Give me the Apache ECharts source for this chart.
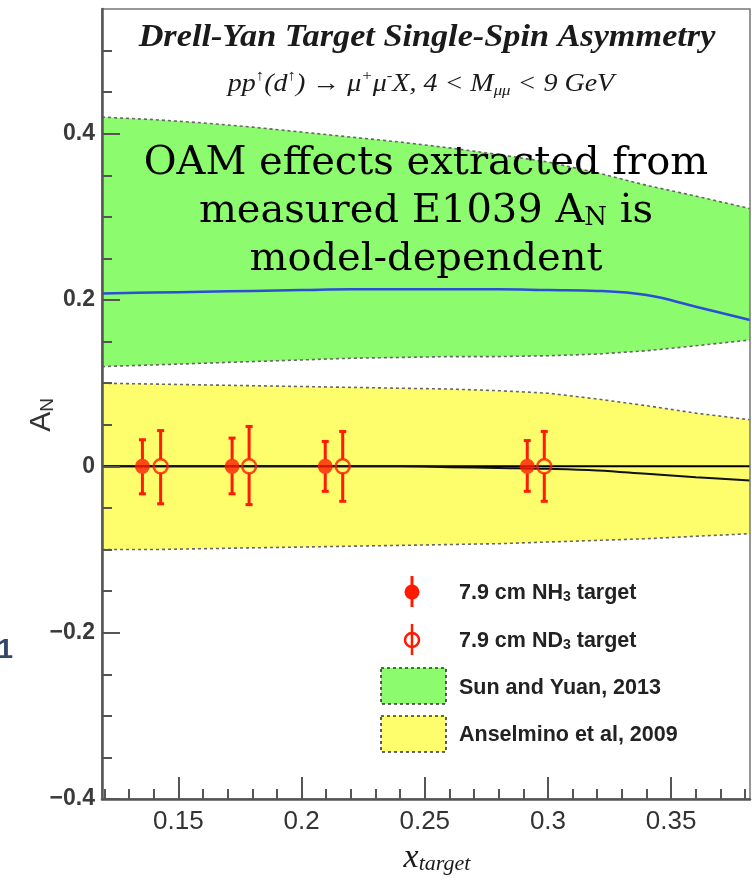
<!DOCTYPE html>
<html>
<head>
<meta charset="utf-8">
<script src="https://cdn.jsdelivr.net/npm/echarts@6/dist/echarts.min.js"></script>
<style>html,body{margin:0;padding:0;background:#fff}#c{width:752px;height:883px}</style>
</head>
<body>
<div id="c"></div>
<script>
// ---- data ----
const bandX      = [0.119, 0.14, 0.16, 0.18, 0.20, 0.22, 0.24, 0.26, 0.28, 0.30, 0.32, 0.34, 0.36, 0.382];
const sunUpper   = [0.420, 0.417, 0.413, 0.408, 0.402, 0.396, 0.390, 0.383, 0.375, 0.366, 0.353, 0.338, 0.325, 0.310];
const sunLower   = [0.120, 0.122, 0.124, 0.126, 0.128, 0.130, 0.131, 0.132, 0.132, 0.133, 0.135, 0.139, 0.145, 0.152];
const sunCentral = [0.208, 0.209, 0.210, 0.211, 0.212, 0.213, 0.213, 0.213, 0.213, 0.212, 0.211, 0.206, 0.192, 0.176];
const ansUpper   = [0.100, 0.099, 0.098, 0.097, 0.096, 0.095, 0.094, 0.093, 0.091, 0.088, 0.081, 0.073, 0.064, 0.056];
const ansLower   = [-0.100, -0.100, -0.099, -0.098, -0.097, -0.096, -0.095, -0.094, -0.093, -0.091, -0.089, -0.087, -0.084, -0.081];
const ansCentralP = [0, 0, 0, 0, 0, 0, 0, 0, 0, 0, 0, 0, 0, 0];
const ansCentralD = [0, 0, 0, 0, 0, 0, 0, -0.001, -0.002, -0.003, -0.005, -0.009, -0.013, -0.017];

const nh3X  = [0.1354, 0.1718, 0.2096, 0.2916];
const nh3Y  = [0, 0, 0, 0];
const nh3Lo = [-0.033, -0.033, -0.030, -0.030];
const nh3Hi = [0.032, 0.034, 0.030, 0.031];
const nd3X  = [0.1428, 0.1787, 0.2167, 0.2985];
const nd3Y  = [0, 0, 0, 0];
const nd3Lo = [-0.045, -0.046, -0.042, -0.042];
const nd3Hi = [0.043, 0.048, 0.042, 0.042];

const xTickLabels = [0.15, 0.2, 0.25, 0.3, 0.35];
const xMinorTicks = [0.12, 0.13, 0.14, 0.16, 0.17, 0.18, 0.19, 0.21, 0.22, 0.23, 0.24, 0.26, 0.27, 0.28, 0.29, 0.31, 0.32, 0.33, 0.34, 0.36, 0.37, 0.38];
const yTickLabels = [-0.4, -0.2, 0, 0.2, 0.4];
const yMinorTicks = [-0.35, -0.3, -0.25, -0.15, -0.1, -0.05, 0.05, 0.1, 0.15, 0.25, 0.3, 0.35, 0.45, 0.5];

const legendLabels = ['7.9 cm NH', '7.9 cm ND', 'Sun and Yuan, 2013', 'Anselmino et al, 2009'];

// ---- styles ----
const GREEN = '#8cfb6e', YELLOW = '#fefe6c', RED = '#ff1a00';
const fmt = v => (v < 0 ? '\u2212' + String(Math.abs(v)) : String(v));

function bandSeries(upper, lower, fill) {
  return {
    type: 'custom', z: 1, silent: true,
    data: bandX.map((x, i) => [x, lower[i], upper[i]]),
    encode: { x: 0, y: [1, 2] },
    renderItem: function (params, api) {
      if (params.dataIndex !== 0) return;
      const up = bandX.map((x, i) => api.coord([x, upper[i]]));
      const lo = bandX.map((x, i) => api.coord([x, lower[i]]));
      const edge = { stroke: '#666', lineWidth: 1.6, lineDash: [3, 3], fill: null };
      return {
        type: 'group', children: [
          { type: 'polygon', shape: { points: up.concat(lo.slice().reverse()) }, style: { fill: fill } },
          { type: 'polyline', shape: { points: up }, style: edge },
          { type: 'polyline', shape: { points: lo }, style: edge }
        ]
      };
    }
  };
}

function errSeries(xs, ys, los, his) {
  return {
    type: 'custom', z: 5, silent: true,
    data: xs.map((x, i) => [x, ys[i], los[i], his[i]]),
    encode: { x: 0, y: [1, 2, 3] },
    renderItem: function (params, api) {
      const c = api.coord([api.value(0), api.value(1)]);
      const t = api.coord([api.value(0), api.value(3)]);
      const b = api.coord([api.value(0), api.value(2)]);
      const r = 7, cap = 3.5;
      const st = { stroke: RED, lineWidth: 3 };
      return {
        type: 'group', children: [
          { type: 'line', shape: { x1: c[0], y1: t[1], x2: c[0], y2: c[1] - r }, style: st },
          { type: 'line', shape: { x1: c[0], y1: c[1] + r, x2: c[0], y2: b[1] }, style: st },
          { type: 'line', shape: { x1: c[0] - cap, y1: t[1], x2: c[0] + cap, y2: t[1] }, style: st },
          { type: 'line', shape: { x1: c[0] - cap, y1: b[1], x2: c[0] + cap, y2: b[1] }, style: st }
        ]
      };
    }
  };
}

const chart = echarts.init(document.getElementById('c'), null, { renderer: 'canvas' });

const axisCol = '#555';
const legRich = {
  s: { fontFamily: 'Liberation Sans', fontWeight: 'bold', fontSize: 14, fill: '#222', lineHeight: 14, verticalAlign: 'bottom', padding: [14, 0, 0, 0] },
  m: { fontFamily: 'Liberation Sans', fontWeight: 'bold', fontSize: 21.5, fill: '#222' }
};
const option = {
  animation: false,
  backgroundColor: '#fff',
  grid: { left: 102, right: 2, top: 9, bottom: 84, show: true, borderColor: '#777', borderWidth: 1.5, backgroundColor: 'transparent', z: 8 },
  xAxis: [
    { type: 'value', min: 0.119, max: 0.382, position: 'bottom', z: 10,
      axisLine: { show: true, onZero: false, lineStyle: { color: axisCol, width: 2.5 } },
      axisTick: { show: true, inside: true, length: 22, lineStyle: { color: axisCol, width: 2 }, customValues: xTickLabels },
      axisLabel: { show: true, customValues: xTickLabels, margin: 10, fontSize: 26, color: '#333', fontFamily: 'Liberation Sans', formatter: fmt },
      splitLine: { show: false } },
    { type: 'value', min: 0.119, max: 0.382, position: 'bottom', z: 10,
      axisLine: { show: false, onZero: false },
      axisTick: { show: true, inside: true, length: 10, lineStyle: { color: axisCol, width: 2 }, customValues: xMinorTicks },
      axisLabel: { show: false }, splitLine: { show: false } }
  ],
  yAxis: [
    { type: 'value', min: -0.4, max: 0.55, position: 'left', z: 10,
      axisLine: { show: true, onZero: false, lineStyle: { color: axisCol, width: 2.5 } },
      axisTick: { show: true, inside: true, length: 18, lineStyle: { color: axisCol, width: 2 }, customValues: yTickLabels },
      axisLabel: { show: true, customValues: yTickLabels, margin: 7, fontSize: 23, fontWeight: 'bold', color: '#3a3a3a', fontFamily: 'Liberation Sans', formatter: fmt },
      splitLine: { show: false } },
    { type: 'value', min: -0.4, max: 0.55, position: 'left', z: 10,
      axisLine: { show: false, onZero: false },
      axisTick: { show: true, inside: true, length: 10, lineStyle: { color: axisCol, width: 2 }, customValues: yMinorTicks },
      axisLabel: { show: false }, splitLine: { show: false } }
  ],
  series: [
    bandSeries(ansUpper, ansLower, YELLOW),
    bandSeries(sunUpper, sunLower, GREEN),
    { type: 'line', z: 3, symbol: 'none', silent: true, smooth: 0.4, data: bandX.map((x, i) => [x, sunCentral[i]]), lineStyle: { color: '#2a4fd6', width: 2.5 } },
    { type: 'line', z: 3, symbol: 'none', silent: true, data: bandX.map((x, i) => [x, ansCentralP[i]]), lineStyle: { color: '#000', width: 2 } },
    { type: 'line', z: 3, symbol: 'none', silent: true, smooth: 0.4, data: bandX.map((x, i) => [x, ansCentralD[i]]), lineStyle: { color: '#111', width: 2 } },
    errSeries(nh3X, nh3Y, nh3Lo, nh3Hi),
    errSeries(nd3X, nd3Y, nd3Lo, nd3Hi),
    { type: 'scatter', z: 6, silent: true, symbol: 'circle', symbolSize: 15, data: nh3X.map((x, i) => [x, nh3Y[i]]), itemStyle: { color: RED } },
    { type: 'scatter', z: 6, silent: true, symbol: 'circle', symbolSize: 14, data: nd3X.map((x, i) => [x, nd3Y[i]]), itemStyle: { color: 'rgba(0,0,0,0)', borderColor: RED, borderWidth: 2.5 } }
  ],
  graphic: [
    // title
    { type: 'text', x: 427, y: 38, scaleX: 1.07, z: 20, style: { text: 'Drell-Yan Target Single-Spin Asymmetry', align: 'center', verticalAlign: 'middle', fontFamily: 'Liberation Serif', fontStyle: 'italic', fontWeight: 'bold', fontSize: 32, fill: '#1a1a1a' } },
    { type: 'text', x: 421, y: 84, scaleX: 1.12, z: 20, style: {
        text: '{i|pp}{s|\u2191}{i|(d}{s|\u2191}{i|) \u2192 \u03bc}{s|+}{i|\u03bc}{s|-}{i|X, 4 < M}{b|\u03bc\u03bc}{i| < 9 GeV}',
        align: 'center', verticalAlign: 'middle',
        rich: {
          i: { fontFamily: 'Liberation Serif', fontStyle: 'italic', fontSize: 25, fill: '#1a1a1a', lineHeight: 30, verticalAlign: 'middle' },
          s: { fontFamily: 'Liberation Serif', fontStyle: 'italic', fontSize: 15, fill: '#1a1a1a', lineHeight: 15, verticalAlign: 'top' },
          b: { fontFamily: 'Liberation Serif', fontStyle: 'italic', fontSize: 15, fill: '#1a1a1a', lineHeight: 15, verticalAlign: 'bottom', padding: [14, 0, 0, 0] }
        } } },
    // annotation
    { type: 'text', x: 426, y: 212, z: 20, style: {
        text: 'OAM effects extracted from\nmeasured E1039 A{n|N} is\nmodel-dependent',
        align: 'center', verticalAlign: 'middle', fontFamily: 'DejaVu Serif', fontSize: 40, lineHeight: 48, fill: '#000',
        rich: { n: { fontFamily: 'DejaVu Serif', fontSize: 26, lineHeight: 30, verticalAlign: 'bottom', padding: [0, 0, 5, 0], fill: '#000' } } } },
    // axis titles
    { type: 'text', x: 437, y: 858, z: 20, style: {
        text: '{x|x}{t|target}', align: 'center', verticalAlign: 'middle',
        rich: {
          x: { fontFamily: 'Liberation Serif', fontStyle: 'italic', fontSize: 34, fill: '#1a1a1a', lineHeight: 34, verticalAlign: 'top' },
          t: { fontFamily: 'Liberation Serif', fontStyle: 'italic', fontSize: 22, fill: '#1a1a1a', lineHeight: 22, verticalAlign: 'bottom', padding: [22, 0, 0, 0] }
        } } },
    { type: 'text', x: 42, y: 415, rotation: Math.PI / 2, z: 20, style: {
        text: '{a|A}{n|N}', align: 'center', verticalAlign: 'middle',
        rich: {
          a: { fontFamily: 'Liberation Sans', fontSize: 30, fill: '#333', lineHeight: 30, verticalAlign: 'top' },
          n: { fontFamily: 'Liberation Sans', fontSize: 19, fill: '#333', lineHeight: 19, verticalAlign: 'bottom', padding: [16, 0, 0, 0] }
        } } },
    // stray label at left edge
    { type: 'text', x: 13, y: 650, z: 20, style: { text: '1', align: 'right', verticalAlign: 'middle', fontFamily: 'Liberation Sans', fontWeight: 'bold', fontSize: 28, fill: '#34466a' } },
    // legend
    { type: 'line', z: 20, shape: { x1: 412, y1: 576, x2: 412, y2: 607 }, style: { stroke: RED, lineWidth: 3 } },
    { type: 'circle', z: 21, shape: { cx: 412, cy: 592, r: 7.5 }, style: { fill: RED } },
    { type: 'line', z: 20, shape: { x1: 412, y1: 624, x2: 412, y2: 655 }, style: { stroke: RED, lineWidth: 2.5 } },
    { type: 'circle', z: 21, shape: { cx: 412, cy: 640, r: 7 }, style: { fill: null, stroke: RED, lineWidth: 2.5 } },
    { type: 'rect', z: 20, shape: { x: 381, y: 668, width: 65, height: 36 }, style: { fill: GREEN, stroke: '#333', lineWidth: 1.6, lineDash: [3, 3] } },
    { type: 'rect', z: 20, shape: { x: 381, y: 716, width: 65, height: 36 }, style: { fill: YELLOW, stroke: '#333', lineWidth: 1.6, lineDash: [3, 3] } },
    { type: 'text', x: 459, y: 593, z: 20, style: { text: legendLabels[0] + '{s|3}{m| target}', verticalAlign: 'middle', fontFamily: 'Liberation Sans', fontWeight: 'bold', fontSize: 21.5, fill: '#222', rich: legRich } },
    { type: 'text', x: 459, y: 641, z: 20, style: { text: legendLabels[1] + '{s|3}{m| target}', verticalAlign: 'middle', fontFamily: 'Liberation Sans', fontWeight: 'bold', fontSize: 21.5, fill: '#222', rich: legRich } },
    { type: 'text', x: 459, y: 688, z: 20, style: { text: legendLabels[2], verticalAlign: 'middle', fontFamily: 'Liberation Sans', fontWeight: 'bold', fontSize: 21.5, fill: '#222' } },
    { type: 'text', x: 459, y: 735, z: 20, style: { text: legendLabels[3], verticalAlign: 'middle', fontFamily: 'Liberation Sans', fontWeight: 'bold', fontSize: 21.5, fill: '#222' } }
  ]
};
chart.setOption(option);
</script>
</body>
</html>
